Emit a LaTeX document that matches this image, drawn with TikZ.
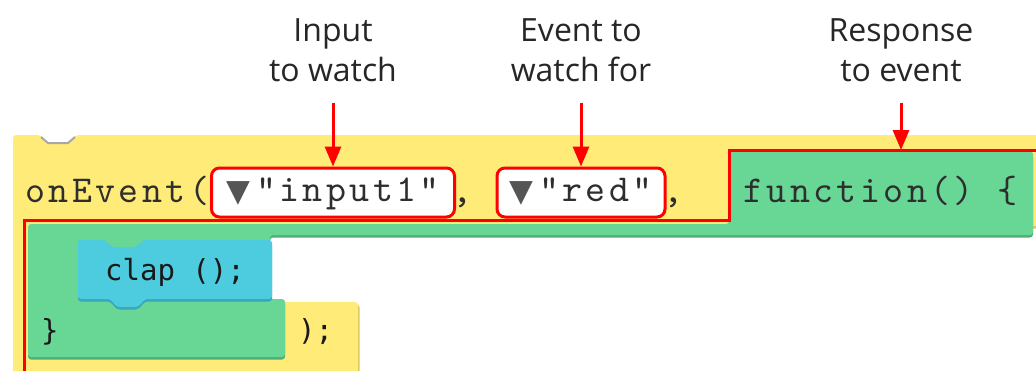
\documentclass[tikz,border=0pt]{standalone}
\usepackage{fontspec}
\setmainfont{Open Sans}
\newfontfamily\codefont{lmmono10-regular.otf}[LetterSpace=9.1]
\newfontfamily\blockfont{DejaVu Sans Mono}
\newfontfamily\symfont{DejaVu Sans}
\usetikzlibrary{arrows.meta}

\definecolor{blkyellow}{HTML}{FFEB78}
\definecolor{blkyellowdk}{HTML}{DCC75E}
\definecolor{blkgreen}{HTML}{68D796}
\definecolor{blkgreendk}{HTML}{4FAF77}
\definecolor{blkblue}{HTML}{4DCBDF}
\definecolor{blkbluedk}{HTML}{3AA6B9}
\definecolor{hilite}{HTML}{FF0000}
\definecolor{codegray}{HTML}{2E2E2E}
\definecolor{trigray}{HTML}{555555}
\definecolor{notchgray}{HTML}{A8A8A8}

% typewriter face, spaced out to the block editor's character pitch
\newcommand\blkcode{\codefont\fontsize{38}{38}\selectfont}
\newcommand\dropmark{{\symfont\fontsize{31}{31}\selectfont\color{trigray}▼}\hspace{6pt}}

% block outlines, in pixel-like units
\def\yellowpath{(13,385) -- (13,135) -- (40,135) -- (48,143) -- (68,143) -- (76,135)
  -- (1050,135) -- (1050,226) -- (30,226) -- (30,302) -- (358,302) -- (358,385) -- cycle}
\def\greenpath{(28,224) -- (729,224) -- (729,151) -- (1033,151) -- (1033,235)
  -- (270,235) -- (270,299) -- (285,299) -- (285,357) -- (28,357) -- cycle}
\def\bluepath{(78,240) -- (105,240) -- (112,247) -- (136,247) -- (143,240) -- (272,240)
  -- (272,299) -- (145,299) -- (138,307) -- (117,307) -- (110,299) -- (78,299) -- cycle}

\begin{document}
\begin{tikzpicture}[x=1pt,y=-1pt,
  notetext/.style={align=center, inner sep=0pt, text=black!85,
    font=\fontsize{32}{40}\selectfont},
  codetext/.style={anchor=base west, inner sep=0pt, text=codegray, font=\blkcode},
  blocktext/.style={anchor=base west, inner sep=0pt, text=black!90,
    font=\blockfont\fontsize{29}{29}\selectfont},
  strbox/.style={draw=hilite, line width=3pt, fill=white, rounded corners=8pt,
    minimum height=49pt, inner sep=0pt, text height=25pt, text depth=8pt,
    text=codegray, font=\blkcode},
  callout/.style={draw=hilite, line width=3pt, -{Triangle[width=16pt,length=20pt]}},
  blockshape/.style={rounded corners=3pt},
]
\useasboundingbox (0,0) rectangle (1036,370);

% onEvent block (yellow) with its top notch
\fill[blkyellowdk, blockshape, xshift=1.5pt, yshift=-2.5pt] \yellowpath;
\fill[blkyellow, blockshape] \yellowpath;
\draw[notchgray, line width=2pt, line join=round] (41,137) -- (48,143) -- (68,143) -- (75,137);

% function block (green)
\fill[blkgreendk, blockshape, yshift=-2.5pt] \greenpath;
\fill[blkgreen, blockshape] \greenpath;

% clap block (blue)
\fill[blkbluedk, blockshape, yshift=-2.5pt] \bluepath;
\fill[blkblue, blockshape] \bluepath;

% outline of the callback
\draw[hilite, line width=3pt] (1050,150) -- (729,150) -- (729,220) -- (24,220) -- (24,372) -- (1050,372);

% code text
\node[codetext] (evname) at (25,202) {onEvent(};
\node[codetext] (comma1) at (452,202) {,};
\node[codetext] (comma2) at (663,202) {,};
\node[codetext] (fnhead) at (743,202) {function() \{};

\node[strbox, minimum width=243pt] (in1) at (333,192.5) {\dropmark"input1"};
\node[strbox, minimum width=168pt] (evred) at (581,192.5) {\dropmark"red"};

\node[blocktext] (clap) at (105,280) {clap ();};
\node[blocktext] (fnclose) at (41,340) {\}};
\node[blocktext] (evclose) at (298,340) {);};

% captions and their arrows
\node[notetext] (lblinput) at (333,50) {Input\\to watch};
\node[notetext] (lblevent) at (581,50) {Event to\\watch for};
\node[notetext] (lblresp) at (901,50) {Response\\to event};
\coordinate (fnedge) at (901,150);

\draw[callout] (lblinput.south) ++(0,21) -- (in1.north);
\draw[callout] (lblevent.south) ++(0,21) -- (evred.north);
\draw[callout] (lblresp.south) ++(0,21) -- (fnedge);
\end{tikzpicture}
\end{document}
